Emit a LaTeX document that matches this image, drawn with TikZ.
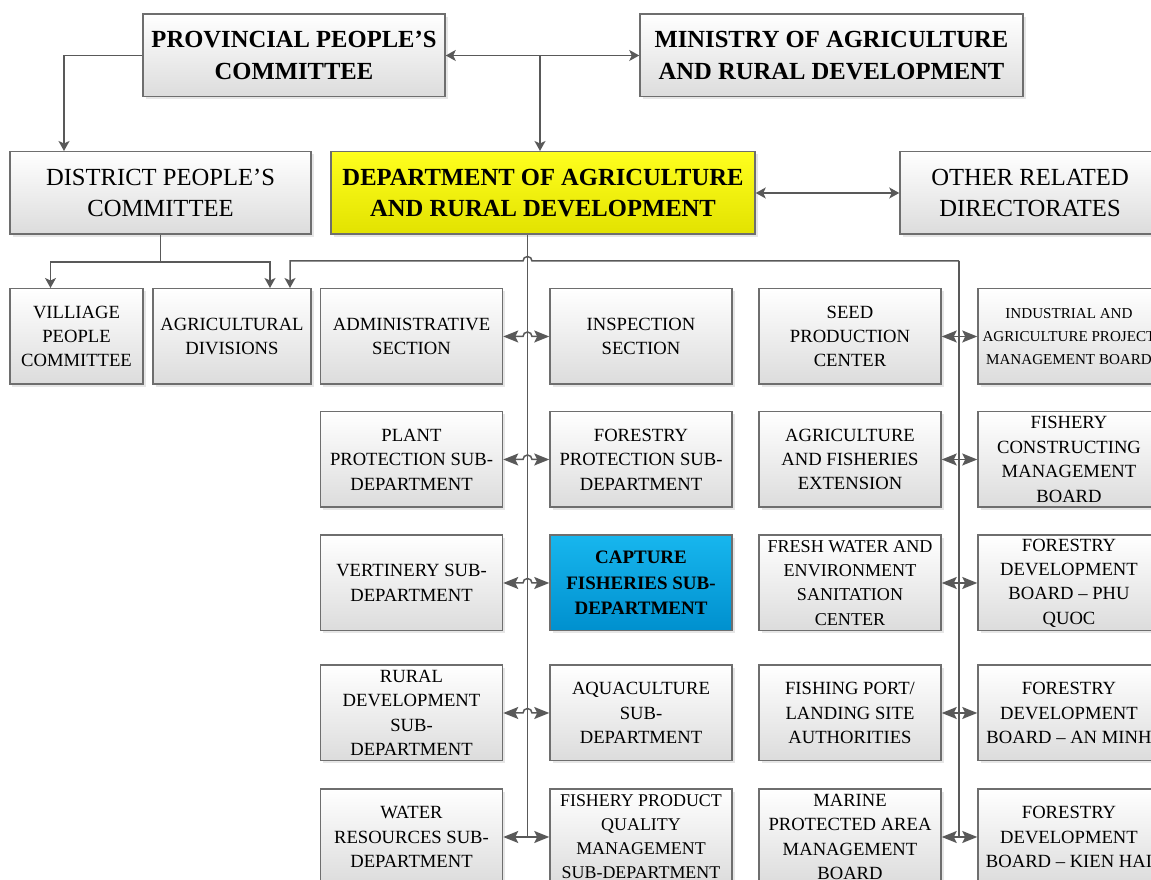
\documentclass[tikz,border=0pt]{standalone}
\usepackage{fontspec}
\setmainfont{Liberation Serif}
\usetikzlibrary{arrows.meta,shadows}
\definecolor{OrgLine}{HTML}{595959}
\definecolor{OrgEdge}{HTML}{6E6E6E}
\definecolor{OrgGrey}{HTML}{DCDCDC}
\definecolor{OrgYellowTop}{HTML}{FFFF1E}
\definecolor{OrgYellowBot}{HTML}{E2E200}
\definecolor{OrgBlueTop}{HTML}{17B6EE}
\definecolor{OrgBlueBot}{HTML}{0090CE}
\tikzset{
  smallhead/.tip={Stealth[length=0.2cm,width=0.22cm,inset=0.05cm]},
  bighead/.tip={Stealth[length=0.3cm,width=0.24cm,inset=0.06cm]},
  link/.style={draw=OrgLine,line width=0.03cm},
  orgbox/.style={rectangle,draw=OrgEdge,line width=0.03cm,top color=white,bottom color=OrgGrey,
    align=center,inner sep=0pt,
    drop shadow={shadow xshift=0.05cm,shadow yshift=-0.05cm,opacity=0.2,fill=black!50}},
  headbox/.style={orgbox,minimum height=1.65cm,font=\fontsize{14}{18}\selectfont},
  chief/.style={headbox,font=\fontsize{14}{18}\selectfont\bfseries},
  unitbox/.style={orgbox,minimum width=3.64cm,minimum height=1.91cm,font=\fontsize{10.6}{13.9}\selectfont},
}
\begin{document}
\begin{tikzpicture}[x=1cm,y=1cm]
\path[use as bounding box] (0,0) rectangle (23.02,17.60);
% top levels
\node[chief,minimum width=6.04cm] (prov) at (5.88,16.49) {PROVINCIAL PEOPLE'S\\COMMITTEE};
\node[chief,minimum width=7.66cm] (min) at (16.63,16.49) {MINISTRY OF AGRICULTURE\\AND RURAL DEVELOPMENT};
\node[headbox,minimum width=6.02cm] (dist) at (3.21,13.74) {DISTRICT PEOPLE'S\\COMMITTEE};
\node[chief,minimum width=8.48cm,top color=OrgYellowTop,bottom color=OrgYellowBot] (dard) at (10.86,13.74) {DEPARTMENT OF AGRICULTURE\\AND RURAL DEVELOPMENT};
\node[headbox,minimum width=5.20cm] (other) at (20.60,13.74) {OTHER RELATED\\DIRECTORATES};
% row 1
\node[unitbox,minimum width=2.66cm] (vil) at (1.53,10.87) {VILLIAGE\\PEOPLE\\COMMITTEE};
\node[unitbox,minimum width=3.16cm] (agri) at (4.64,10.87) {AGRICULTURAL\\DIVISIONS};
\node[unitbox] (adm) at (8.23,10.87) {ADMINISTRATIVE\\SECTION};
\node[unitbox] (insp) at (12.82,10.87) {INSPECTION\\SECTION};
\node[unitbox] (seed) at (17.00,10.87) {SEED\\PRODUCTION\\CENTER};
\node[unitbox,font=\fontsize{8.6}{13}\selectfont] (ind) at (21.38,10.87) {INDUSTRIAL AND\\AGRICULTURE PROJECT\\MANAGEMENT BOARD};
% row 2
\node[unitbox] (plant) at (8.23,8.41) {PLANT\\PROTECTION SUB-\\DEPARTMENT};
\node[unitbox] (forprot) at (12.82,8.41) {FORESTRY\\PROTECTION SUB-\\DEPARTMENT};
\node[unitbox] (ext) at (17.00,8.41) {AGRICULTURE\\AND FISHERIES\\EXTENSION};
\node[unitbox] (fcmb) at (21.38,8.41) {FISHERY\\CONSTRUCTING\\MANAGEMENT\\BOARD};
% row 3
\node[unitbox] (vet) at (8.23,5.94) {VERTINERY SUB-\\DEPARTMENT};
\node[unitbox,font=\fontsize{10.8}{14.4}\selectfont\bfseries,top color=OrgBlueTop,bottom color=OrgBlueBot] (capture) at (12.82,5.94) {CAPTURE\\FISHERIES SUB-\\DEPARTMENT};
\node[unitbox,font=\fontsize{10.3}{13.7}\selectfont] (fresh) at (17.00,5.94) {FRESH WATER AND\\ENVIRONMENT\\SANITATION\\CENTER};
\node[unitbox] (phuquoc) at (21.38,5.94) {FORESTRY\\DEVELOPMENT\\BOARD -- PHU\\QUOC};
% row 4
\node[unitbox] (rural) at (8.23,3.34) {RURAL\\DEVELOPMENT\\SUB-\\DEPARTMENT};
\node[unitbox] (aqua) at (12.82,3.34) {AQUACULTURE\\SUB-\\DEPARTMENT};
\node[unitbox] (port) at (17.00,3.34) {FISHING PORT/\\LANDING SITE\\AUTHORITIES};
\node[unitbox] (anminh) at (21.38,3.34) {FORESTRY\\DEVELOPMENT\\BOARD -- AN MINH};
% row 5
\node[unitbox] (water) at (8.23,0.86) {WATER\\RESOURCES SUB-\\DEPARTMENT};
\node[unitbox,font=\fontsize{10.2}{13.7}\selectfont] (quality) at (12.82,0.86) {FISHERY PRODUCT\\QUALITY\\MANAGEMENT\\SUB-DEPARTMENT};
\node[unitbox] (marine) at (17.00,0.86) {MARINE\\PROTECTED AREA\\MANAGEMENT\\BOARD};
\node[unitbox] (kienhai) at (21.38,0.86) {FORESTRY\\DEVELOPMENT\\BOARD -- KIEN HAI};
% links between the top boxes
\draw[link,smallhead-smallhead] (prov.east) -- (min.west);
\coordinate (pmj) at (10.80,16.49);
\draw[link,-smallhead] (pmj) -- (pmj |- dard.north);
\draw[link,-smallhead] (prov.west) -| ([xshift=-1.93cm]dist.north);
\draw[link,smallhead-smallhead] (dard.east) -- (other.west);
\draw[link] (dist.south) -- ++(0,-0.54) coordinate (dj);
\draw[link,-smallhead] (dj) -| ([xshift=-0.52cm]vil.north);
\draw[link,-smallhead] (dj) -| ([xshift=0.76cm]agri.north);
% the two spines
\coordinate (busR) at (19.18,12.38);
\coordinate (spA) at (10.55,0.86);
\coordinate (spB) at (19.18,0.86);
\draw[link] (dard.south -| spA) -- (spA);
\draw[link] (busR) -- (spB);
\draw[link,-smallhead] (busR) -- (10.64,12.38) arc[start angle=0,end angle=180,radius=0.09] -- (5.80,12.38) -- ([xshift=1.16cm]agri.north);
% left spine, hops over it
\draw[link,bighead-bighead] (adm.east) -- (10.46,10.87) arc[start angle=180,end angle=0,radius=0.09] -- (insp.west);
\draw[link,bighead-bighead] (plant.east) -- (10.46,8.41) arc[start angle=180,end angle=0,radius=0.09] -- (forprot.west);
\draw[link,bighead-bighead] (vet.east) -- (10.46,5.94) arc[start angle=180,end angle=0,radius=0.09] -- (capture.west);
\draw[link,bighead-bighead] (rural.east) -- (10.46,3.34) arc[start angle=180,end angle=0,radius=0.09] -- (aqua.west);
\draw[link,bighead-bighead] (water.east) -- (quality.west);
% right spine
\draw[link,bighead-bighead] (seed.east) -- (ind.west);
\draw[link,bighead-bighead] (ext.east) -- (fcmb.west);
\draw[link,bighead-bighead] (fresh.east) -- (phuquoc.west);
\draw[link,bighead-bighead] (port.east) -- (anminh.west);
\draw[link,bighead-bighead] (marine.east) -- (kienhai.west);
\end{tikzpicture}
\end{document}
